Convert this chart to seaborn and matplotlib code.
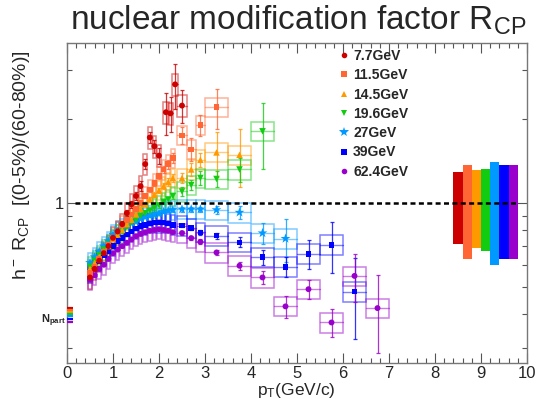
import numpy as np
import pandas as pd
import matplotlib
matplotlib.use('Agg')
import matplotlib.pyplot as plt
from matplotlib.patches import Rectangle
from matplotlib.lines import Line2D
from matplotlib.colors import to_rgba
import seaborn as sns

# ---------------- data ----------------
energies = ['7.7GeV', '11.5GeV', '14.5GeV', '19.6GeV', '27GeV', '39GeV', '62.4GeV']

low_pt = [0.5, 0.6, 0.7, 0.8, 0.9, 1.0, 1.1, 1.2, 1.3, 1.4,
          1.5, 1.6, 1.7, 1.8, 1.9, 2.0, 2.1, 2.2, 2.3]
high_pt = [2.5, 2.7, 2.9, 3.25, 3.75, 4.25, 4.75, 5.25, 5.75, 6.25, 6.75]

pt_7p7 = [0.5, 0.6, 0.7, 0.8, 0.9, 1.0, 1.1, 1.2, 1.3, 1.4,
          1.5, 1.6, 1.7, 1.8, 1.9, 2.0, 2.15, 2.25, 2.35, 2.5]
pt_11p5 = low_pt + high_pt[:4]
pt_14p5 = low_pt + high_pt[:5]
pt_19p6 = low_pt + high_pt[:6]
pt_27 = low_pt + high_pt[:7]
pt_39 = low_pt + high_pt[:10]
pt_62p4 = low_pt + high_pt[:11]

rcp_7p7 = [0.54, 0.58, 0.62, 0.66, 0.70, 0.75, 0.79, 0.84, 0.92, 0.99,
           1.06, 1.15, 1.38, 1.72, 1.60, 1.48, 2.12, 2.10, 2.67, 2.24]
rcp_11p5 = [0.56, 0.59, 0.63, 0.67, 0.71, 0.75, 0.79, 0.83, 0.87, 0.91,
            0.95, 1.00, 1.06, 1.12, 1.18, 1.25, 1.32, 1.38, 1.45,
            1.75, 1.56, 1.91, 2.21]
rcp_14p5 = [0.58, 0.61, 0.64, 0.67, 0.70, 0.74, 0.77, 0.80, 0.84, 0.87,
            0.91, 0.95, 0.99, 1.03, 1.07, 1.11, 1.15, 1.19, 1.23,
            1.23, 1.32, 1.43, 1.52, 1.49]
rcp_19p6 = [0.59, 0.62, 0.65, 0.68, 0.71, 0.74, 0.77, 0.79, 0.82, 0.85,
            0.87, 0.90, 0.92, 0.94, 0.96, 0.98, 1.01, 1.03, 1.06,
            1.10, 1.16, 1.23, 1.22, 1.32, 1.81]
rcp_27 = [0.61, 0.64, 0.67, 0.70, 0.73, 0.77, 0.79, 0.81, 0.83, 0.85,
          0.86, 0.88, 0.89, 0.90, 0.91, 0.92, 0.93, 0.94, 0.945,
          0.95, 0.95, 0.95, 0.945, 0.925, 0.78, 0.745]
rcp_39 = [0.56, 0.59, 0.62, 0.65, 0.67, 0.70, 0.73, 0.75, 0.77, 0.79,
          0.81, 0.825, 0.835, 0.845, 0.85, 0.85, 0.85, 0.845, 0.835,
          0.829, 0.813, 0.784, 0.763, 0.722, 0.64, 0.59, 0.657, 0.708, 0.48]
rcp_62p4 = [0.53, 0.55, 0.58, 0.60, 0.63, 0.66, 0.68, 0.70, 0.72, 0.74,
            0.76, 0.775, 0.785, 0.795, 0.80, 0.805, 0.80, 0.795, 0.785,
            0.78, 0.748, 0.725, 0.664, 0.595, 0.54, 0.425, 0.49, 0.372, 0.547, 0.419]

stat_7p7 = [0.01, 0.01, 0.01, 0.01, 0.015, 0.015, 0.02, 0.02, 0.025, 0.03,
            0.035, 0.045, 0.06, 0.08, 0.09, 0.10, 0.37, 0.30, 0.50, 0.30]
stat_11p5 = [0.01, 0.01, 0.01, 0.01, 0.01, 0.01, 0.01, 0.015, 0.015, 0.015,
             0.02, 0.02, 0.02, 0.025, 0.03, 0.035, 0.04, 0.05, 0.06,
             0.12, 0.15, 0.17, 0.37]
stat_14p5 = [0.01, 0.01, 0.01, 0.01, 0.01, 0.01, 0.01, 0.01, 0.01, 0.01,
             0.015, 0.015, 0.015, 0.02, 0.02, 0.025, 0.03, 0.035, 0.04,
             0.05, 0.07, 0.08, 0.28, 0.35]
stat_19p6 = [0.01, 0.01, 0.01, 0.01, 0.01, 0.01, 0.01, 0.01, 0.01, 0.01,
             0.01, 0.01, 0.01, 0.015, 0.015, 0.02, 0.02, 0.025, 0.03,
             0.04, 0.05, 0.07, 0.08, 0.13, 0.48]
stat_27 = [0.01, 0.01, 0.01, 0.01, 0.01, 0.01, 0.01, 0.01, 0.01, 0.01,
           0.01, 0.01, 0.01, 0.01, 0.01, 0.012, 0.012, 0.015, 0.015,
           0.02, 0.02, 0.02, 0.03, 0.05, 0.065, 0.13]
stat_39 = [0.005, 0.005, 0.005, 0.005, 0.005, 0.005, 0.005, 0.005, 0.005, 0.005,
           0.005, 0.005, 0.005, 0.005, 0.005, 0.008, 0.008, 0.008, 0.008,
           0.01, 0.01, 0.015, 0.02, 0.03, 0.04, 0.05, 0.078, 0.15, 0.155]
stat_62p4 = [0.005, 0.005, 0.005, 0.005, 0.005, 0.005, 0.005, 0.005, 0.005, 0.005,
             0.005, 0.005, 0.005, 0.005, 0.005, 0.008, 0.008, 0.008, 0.008,
             0.01, 0.01, 0.015, 0.015, 0.02, 0.03, 0.04, 0.04, 0.043, 0.107, 0.13]

sys_frac = [0.09, 0.08, 0.08, 0.08, 0.08, 0.08, 0.08]      # relative systematic
norm_err = [0.29, 0.37, 0.31, 0.33, 0.40, 0.37, 0.37]      # normalisation uncertainty at 1
npart_ratio = [0.421, 0.413, 0.406, 0.400, 0.391, 0.383, 0.375]

pts = [pt_7p7, pt_11p5, pt_14p5, pt_19p6, pt_27, pt_39, pt_62p4]
rcps = [rcp_7p7, rcp_11p5, rcp_14p5, rcp_19p6, rcp_27, rcp_39, rcp_62p4]
stats = [stat_7p7, stat_11p5, stat_14p5, stat_19p6, stat_27, stat_39, stat_62p4]

# ---------------- style ----------------
colors = ['#CC0000', '#FF6633', '#FF9900', '#11CC11', '#0099FF', '#0000FF', '#9900CC']
markers = ['o', 's', '^', 'v', '*', 's', 'o']
msizes = [18, 16, 22, 22, 55, 16, 18]

sns.set_style('ticks')
plt.rcParams['font.family'] = ['Liberation Sans', 'DejaVu Sans']
plt.rcParams['mathtext.fontset'] = 'custom'
plt.rcParams['mathtext.rm'] = 'Liberation Sans'
plt.rcParams['mathtext.it'] = 'Liberation Sans:italic'
plt.rcParams['mathtext.bf'] = 'Liberation Sans:bold'

W, H = 538, 399
fig = plt.figure(figsize=(W / 100, H / 100), dpi=100)
ax = fig.add_axes([67 / W, 1 - 363 / H, 460 / W, 320 / H])
ax.set_yscale('log')

# boxes + error bars
for i in range(len(energies)):
    c = colors[i]
    light = to_rgba(c, 0.5)
    for p, v, s in zip(pts[i], rcps[i], stats[i]):
        if p < 2.4:
            hw = 0.06 if (i == 0 and p > 2.05) else 0.04
        elif p < 3.0:
            hw = 0.1
        else:
            hw = 0.25
        dv = v * sys_frac[i]
        ax.add_patch(Rectangle((p - hw, v - dv), 2 * hw, 2 * dv, fill=False,
                               ec=light, lw=1.1, zorder=3))
        if hw > 0.05:
            ax.plot([p - hw, p + hw], [v, v], color=light, lw=1.0, zorder=3)
    ax.errorbar(pts[i], rcps[i], yerr=stats[i], fmt='none', ecolor=to_rgba(c, 0.8),
                elinewidth=0.9, capsize=1.5, capthick=0.9, zorder=4)

# markers via seaborn (purple first so red ends on top)
frames = []
for i in reversed(range(len(energies))):
    frames.append(pd.DataFrame({'pt': pts[i], 'rcp': rcps[i], 'energy': energies[i]}))
df = pd.concat(frames, ignore_index=True)
sns.scatterplot(data=df, x='pt', y='rcp', hue='energy', style='energy', size='energy',
                palette=dict(zip(energies, colors)), markers=dict(zip(energies, markers)),
                sizes=dict(zip(energies, msizes)), linewidth=0, legend=False,
                ax=ax, zorder=5)

# normalisation bars on the right
norm_x = [8.5 + 0.2 * k for k in range(len(energies))]
ax.bar(norm_x, [2 * e for e in norm_err], bottom=[1 - e for e in norm_err],
       width=0.2, color=colors, zorder=2, linewidth=0)

# Npart lines
for k, yv in enumerate(npart_ratio):
    ax.plot([0.0, 0.14], [yv, yv], color=colors[k], lw=1.6, solid_capstyle='butt',
            zorder=6, clip_on=False)

# dashed unity line
ax.plot([0.17, 9.78], [1, 1], color='black', lw=1.8, ls=(0, (2, 1.35)), zorder=10)

# axes
ax.set_xlim(0, 10)
ax.set_ylim(0.266, 3.76)
ax.set_xlabel('')
ax.set_ylabel('')
ax.set_xticks(range(0, 11))
ax.set_xticks(np.arange(0, 10.01, 0.2), minor=True)
ax.set_yticks([1])
ax.set_yticklabels(['1'])
ax.set_yticks([0.3, 0.4, 0.5, 0.6, 0.7, 0.8, 0.9, 2, 3], minor=True)
ax.yaxis.set_minor_formatter(matplotlib.ticker.NullFormatter())
ax.tick_params(which='both', direction='in', top=True, right=True, color='#555555',
               labelsize=12, pad=2)
ax.tick_params(which='major', length=7, width=0.8)
ax.tick_params(which='minor', length=3.5, width=0.8)
for sp in ax.spines.values():
    sp.set_color('#777777')
    sp.set_linewidth(1.0)

# legend
handles = [Line2D([], [], ls='none', marker=m, color=c, markersize=(4 if m != '*' else 7),
                  markeredgewidth=0) for m, c in zip(markers, colors)]
ax.legend(handles, energies, loc='upper left', bbox_to_anchor=(340 / W, 1 - 49 / H),
          bbox_transform=fig.transFigure, frameon=False,
          prop={'weight': 'bold', 'size': 10}, handlelength=0.6, handletextpad=0.35,
          labelspacing=0.38, borderpad=0, borderaxespad=0)

# texts
fig.text(298 / W, 1 - 20 / H, 'nuclear modification factor R$_{\\rm CP}$',
         ha='center', va='center', fontsize=24)
fig.text(22 / W, 1 - 165 / H, 'h$^{\\rm -}$ R$_{\\rm CP}$  [(0-5%)/(60-80%)]',
         ha='center', va='center', rotation=90, fontsize=14)
fig.text(296 / W, 1 - 390 / H, 'p$_{\\rm T}$(GeV/c)', ha='center', va='center', fontsize=12.5)
fig.text(41 / W, 1 - 321 / H, r'$\mathbf{N_{part}}$', ha='left', va='center', fontsize=8)

fig.savefig('out.png', dpi=100)
